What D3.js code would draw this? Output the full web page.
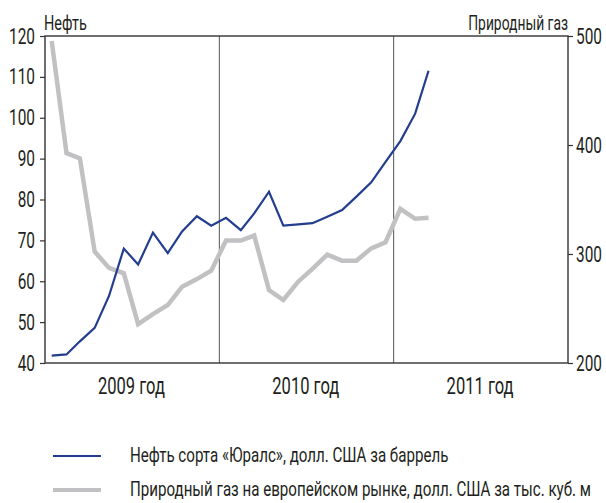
<!DOCTYPE html>
<html>
<head>
<meta charset="utf-8">
<script src="https://cdn.jsdelivr.net/npm/d3@7"></script>
<style>
  body { margin: 0; background: #fff; }
  svg text { font-family: Roboto, "Noto Sans", sans-serif; fill: #231f20; }
</style>
</head>
<body>
<svg id="chart" width="606" height="503"></svg>
<script>
// Data ------------------------------------------------------------------------

// monthly points, Jan 2009 - Mar 2011
var months = [
    "2009-01", "2009-02", "2009-03", "2009-04", "2009-05", "2009-06",
    "2009-07", "2009-08", "2009-09", "2009-10", "2009-11", "2009-12",
    "2010-01", "2010-02", "2010-03", "2010-04", "2010-05", "2010-06",
    "2010-07", "2010-08", "2010-09", "2010-10", "2010-11", "2010-12",
    "2011-01", "2011-02", "2011-03"
];

// Urals oil, USD per barrel (left axis)
var oil = [41.8, 42.1, 45.3, 48.6, 56.4, 68.0, 64.1, 71.9, 66.9, 72.2, 75.9, 73.6,
           75.5, 72.5, 76.6, 81.9, 73.6, 73.9, 74.2, 75.8, 77.4, 80.7, 84.2, 89.2,
           94.3, 101.0, 111.5];

// European natural gas, USD per thousand m3 (right axis)
var gas = [495.4, 392.6, 387.8, 302.2, 287.2, 282.3, 235.7, 244.9, 253.2, 270.0, 277.0, 284.7,
           312.3, 312.3, 316.9, 266.9, 257.8, 274.6, 286.3, 299.4, 293.9, 293.9, 305.2, 310.8,
           341.5, 332.3, 333.2];

var years = [2009, 2010, 2011];
var leftTicks = [40, 50, 60, 70, 80, 90, 100, 110, 120];
var rightTicks = [200, 300, 400, 500];

var legendItems = [
    { label: "Нефть сорта «Юралс», долл. США за баррель", color: "#233d8f", width: 2.2 },
    { label: "Природный газ на европейском рынке, долл. США за тыс. куб. м", color: "#c1c1c3", width: 4.5 }
];

// Helpers ----------------------------------------------------------------------

// the original uses a condensed face, so squeeze Roboto horizontally
function condense(sel, sx) {
    sel.each(function () {
        var t = d3.select(this);
        var x = +t.attr("x") || 0;
        t.attr("x", x / sx).attr("transform", "scale(" + sx + ",1)");
    });
}

function midMonth(m) {
    var p = m.split("-");
    return new Date(+p[0], +p[1] - 1, 15);
}

// Scales -----------------------------------------------------------------------

var svg = d3.select("#chart");
var mLeft = 45, mRight = 568, mTop = 36, mBottom = 363;

var x = d3.scaleTime()
    .domain([new Date(2009, 0, 1), new Date(2012, 0, 1)])
    .range([mLeft, mRight]);
var yOil = d3.scaleLinear().domain([40, 120]).range([mBottom, mTop]);
var yGas = d3.scaleLinear().domain([200, 500]).range([mBottom, mTop]);

// Frame + year dividers ----------------------------------------------------------

years.slice(1).forEach(function (yr) {
    svg.append("line")
        .attr("x1", x(new Date(yr, 0, 1))).attr("x2", x(new Date(yr, 0, 1)))
        .attr("y1", mTop).attr("y2", mBottom)
        .style("stroke", "#555").style("stroke-width", 1);
});

svg.append("rect")
    .attr("x", mLeft).attr("y", mTop)
    .attr("width", mRight - mLeft).attr("height", mBottom - mTop)
    .style("fill", "none").style("stroke", "#333").style("stroke-width", 1.4);

// Axes -------------------------------------------------------------------------

var axL = svg.append("g")
    .attr("transform", "translate(" + mLeft + ",0)")
    .call(d3.axisLeft(yOil).tickValues(leftTicks).tickSize(5).tickPadding(5));
var axR = svg.append("g")
    .attr("transform", "translate(" + mRight + ",0)")
    .call(d3.axisRight(yGas).tickValues(rightTicks).tickSize(5).tickPadding(3));

[axL, axR].forEach(function (ax) {
    ax.select(".domain").remove();
    ax.selectAll("line").style("stroke", "#333").style("stroke-width", 1.2);
    ax.selectAll("text")
        .style("font-family", "Roboto, sans-serif")
        .style("font-size", "22px").style("fill", "#231f20")
        .call(condense, 0.7);
});

svg.selectAll(".yearLabel")
    .data(years)
    .enter()
    .append("text")
    .attr("class", "yearLabel")
    .attr("x", function (d) { return x(new Date(d, 6, 1)); })
    .attr("y", 394)
    .attr("text-anchor", "middle")
    .style("font-size", "24px")
    .text(function (d) { return d + " год"; })
    .call(condense, 0.69);

svg.append("text").attr("x", mLeft - 1).attr("y", 30)
    .style("font-size", "21px").text("Нефть")
    .call(condense, 0.69);
svg.append("text").attr("x", mRight).attr("y", 30)
    .attr("text-anchor", "end")
    .style("font-size", "21px").text("Природный газ")
    .call(condense, 0.66);

// Lines ------------------------------------------------------------------------

var gasLine = d3.line()
    .x(function (d, i) { return x(midMonth(months[i])); })
    .y(function (d) { return yGas(d); });
var oilLine = d3.line()
    .x(function (d, i) { return x(midMonth(months[i])); })
    .y(function (d) { return yOil(d); });

svg.append("path").datum(gas)
    .attr("d", gasLine)
    .style("fill", "none").style("stroke", legendItems[1].color)
    .style("stroke-width", legendItems[1].width).style("stroke-linejoin", "miter");

svg.append("path").datum(oil)
    .attr("d", oilLine)
    .style("fill", "none").style("stroke", legendItems[0].color)
    .style("stroke-width", legendItems[0].width);

// Legend -----------------------------------------------------------------------

var leg = svg.selectAll(".legend")
    .data(legendItems)
    .enter()
    .append("g")
    .attr("class", "legend")
    .attr("transform", function (d, i) { return "translate(0," + (456 + i * 34) + ")"; });

leg.append("line")
    .attr("x1", 53).attr("x2", 101)
    .style("stroke", function (d) { return d.color; })
    .style("stroke-width", function (d, i) { return i ? 4 : d.width; });

leg.append("text")
    .attr("x", 130).attr("y", 6)
    .style("font-size", "21px")
    .text(function (d) { return d.label; })
    .call(condense, 0.72);
</script>
</body>
</html>
